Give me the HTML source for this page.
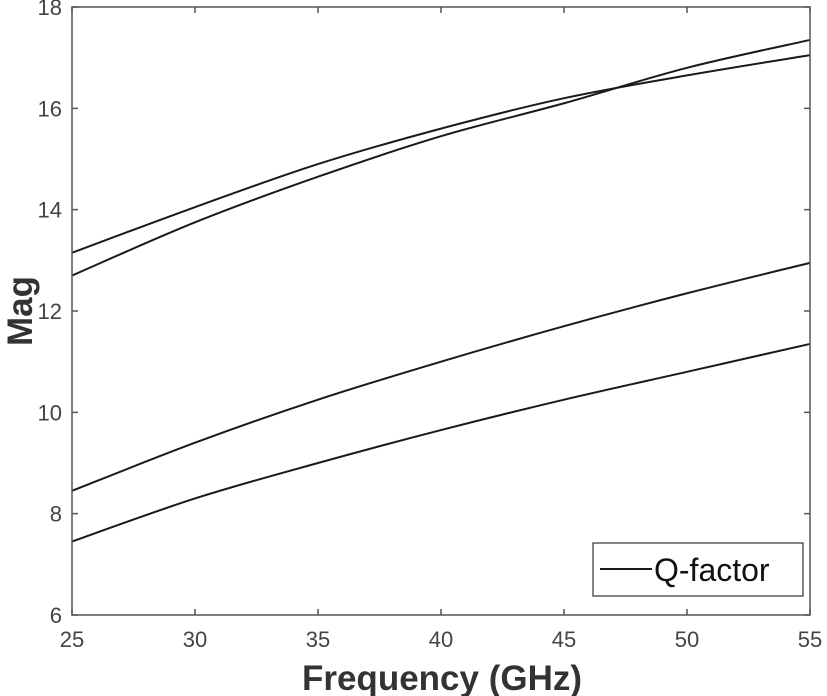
<!DOCTYPE html>
<html><head><meta charset="utf-8"><style>
body{margin:0;background:#fff;}
svg{display:block;font-family:"Liberation Sans",Arial,sans-serif;}
</style></head><body>
<svg id="chart" width="827" height="696">
<g id="grid"></g>
<g id="series"></g>
</svg>
<script>
const freqs=[25,30,35,40,45,50,55];
const curveA=[13.15,14.05,14.9,15.6,16.2,16.65,17.05];
const curveB=[12.7,13.75,14.65,15.45,16.1,16.8,17.35];
const curveC=[8.45,9.4,10.25,11.0,11.7,12.35,12.95];
const curveD=[7.45,8.3,9.0,9.65,10.25,10.8,11.35];
const xTicks=[25,30,35,40,45,50,55];
const yTicks=[6,8,10,12,14,16,18];
const L=72,R=810,T=7,B=615;
const sx=v=>L+(v-25)/30*(R-L);
const sy=v=>B-(v-6)/12*(B-T);
const NS='http://www.w3.org/2000/svg';
const svg=document.getElementById('chart');
function mk(tag,attrs,parent){const e=document.createElementNS(NS,tag);for(const k in attrs)e.setAttribute(k,attrs[k]);(parent||svg).appendChild(e);return e;}
const frame=mk('rect',{x:L,y:T,width:R-L,height:B-T,fill:'none',stroke:'#555','stroke-width':1.5});


xTicks.forEach(t=>{
 const x=sx(t);
 const tk=mk('path',{d:`M${x},${B}v-6M${x},${T}v6`,stroke:'#555','stroke-width':1.5});
 
 
 const lb=mk('text',{x:x,y:B+32,'text-anchor':'middle','font-size':22,fill:'#444'});
 lb.textContent=t;
 
 
});
yTicks.forEach(t=>{
 const y=sy(t);
 const tk=mk('path',{d:`M${L},${y}h6M${R},${y}h-6`,stroke:'#555','stroke-width':1.5});
 
 
 const lb=mk('text',{x:L-10,y:y+8,'text-anchor':'end','font-size':22,fill:'#444'});
 lb.textContent=t;
 
 
});
const sg=document.getElementById('series');
[['curve-a',curveA],['curve-b',curveB],['curve-c',curveC],['curve-d',curveD]].forEach(([n,arr])=>{
 const pts=freqs.map((f,i)=>[sx(f),sy(arr[i])]);
 let d=`M${pts[0][0]},${pts[0][1]}`;
 for(let i=0;i<pts.length-1;i++){
  const p0=pts[Math.max(0,i-1)],p1=pts[i],p2=pts[i+1],p3=pts[Math.min(pts.length-1,i+2)];
  d+=` C${p1[0]+(p2[0]-p0[0])/6},${p1[1]+(p2[1]-p0[1])/6} ${p2[0]-(p3[0]-p1[0])/6},${p2[1]-(p3[1]-p1[1])/6} ${p2[0]},${p2[1]}`;
 }
 const p=mk('path',{d:d,fill:'none',stroke:'#1a1a1a','stroke-width':2},sg);
 
 
});
const lg=mk('g',{});


mk('rect',{x:593,y:543,width:210,height:53,fill:'#fff',stroke:'#333','stroke-width':1.2},lg);
mk('line',{x1:600,y1:569,x2:652,y2:569,stroke:'#1a1a1a','stroke-width':2},lg);
const lt=mk('text',{x:654,y:581,'font-size':32,fill:'#111'},lg);
lt.textContent='Q-factor';


const xt=mk('text',{x:442,y:690,'text-anchor':'middle','font-size':35,'font-weight':'bold',fill:'#333'});
xt.textContent='Frequency (GHz)';


const yt=mk('text',{x:0,y:0,'text-anchor':'middle','font-size':35,'font-weight':'bold',fill:'#333',transform:`translate(32,${sy(12)}) rotate(-90)`});
yt.textContent='Mag';


</script>
</body></html>
